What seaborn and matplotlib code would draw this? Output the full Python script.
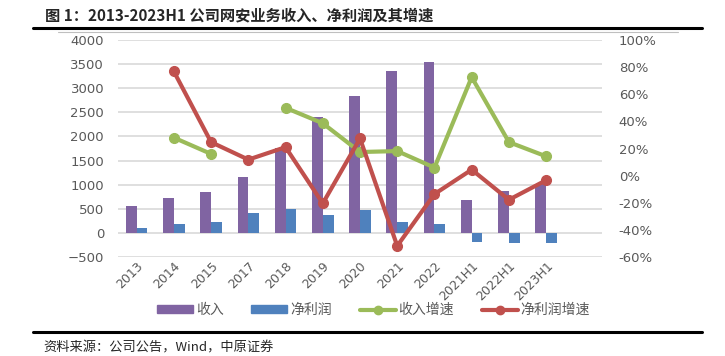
import numpy as np
import pandas as pd
import matplotlib
matplotlib.use('Agg')
import matplotlib.pyplot as plt
import seaborn as sns
from matplotlib.lines import Line2D
from matplotlib.patches import Patch

# 数据（单位：百万元 / 增速）
categories = ['2013', '2014', '2015', '2017', '2018', '2019', '2020', '2021',
              '2022', '2021H1', '2022H1', '2023H1']
revenue = [565, 730, 840, 1150, 1760, 2400, 2830, 3350, 3540, 690, 860, 1020]
net_profit = [100, 175, 220, 405, 490, 380, 485, 230, 190, -180, -220, -215]
revenue_growth = [np.nan, 28.0, 16.0, np.nan, 50.0, 38.6, 17.4, 18.1, 5.9, 72.6, 24.7, 14.2]
profit_growth = [np.nan, 76.8, 24.7, 11.8, 21.0, -20.5, 27.4, -51.8, -13.6, 4.4, -17.8, -3.4]

C_REV = '#8064A2'
C_NP = '#4F81BD'
C_RG = '#9BBB59'
C_PG = '#C0504D'
GRAY = '#595959'

sns.set_style('white')
plt.rcParams['font.family'] = ['Noto Sans CJK SC', 'DejaVu Sans']

fig = plt.figure(figsize=(7.25, 3.56), dpi=100)
ax = fig.add_axes([118 / 725, 1 - 257 / 356, 484 / 725, 217 / 356])

df = pd.DataFrame({
    'cat': categories * 2,
    'val': revenue + net_profit,
    'series': ['收入'] * len(categories) + ['净利润'] * len(categories),
})
sns.barplot(data=df, x='cat', y='val', hue='series', order=categories,
            hue_order=['收入', '净利润'], palette=[C_REV, C_NP],
            width=0.58, saturation=1, legend=False, ax=ax,
            edgecolor='none', linewidth=0)

ax.set_xlim(-0.5, 12.5)
ax.set_ylim(-500, 4000)
ax.set_yticks(np.arange(-500, 4001, 500))
ax.set_xlabel('')
ax.set_ylabel('')
ax.grid(axis='y', color='#D9D9D9', linewidth=1.2)
ax.set_axisbelow(True)
for s in ax.spines.values():
    s.set_visible(False)
ax.tick_params(axis='both', length=0, colors=GRAY)
ax.tick_params(axis='y', labelsize=9.5, pad=10)
for lab in ax.get_yticklabels():
    lab.set_family('DejaVu Sans')
ax.set_xticks(range(len(categories)))
ax.set_xticklabels(categories, rotation=45, ha='right', rotation_mode='anchor',
                   fontsize=9, family='DejaVu Sans', color=GRAY)
ax.tick_params(axis='x', pad=2)

ax2 = ax.twinx()
x = np.arange(len(categories))
ax2.plot(x, revenue_growth, color=C_RG, lw=3, marker='o', ms=7, zorder=3)
ax2.plot(x, profit_growth, color=C_PG, lw=3, marker='o', ms=7, zorder=4)
ax2.set_ylim(-60, 100)
ax2.set_yticks(np.arange(-60, 101, 20))
ax2.set_yticklabels([f'{v}%' for v in range(-60, 101, 20)],
                    family='DejaVu Sans', fontsize=9.5, color=GRAY)
ax2.tick_params(axis='y', length=0, pad=12)
for s in ax2.spines.values():
    s.set_visible(False)

# 图例
handles = [
    Patch(color=C_REV, label='收入'),
    Patch(color=C_NP, label='净利润'),
    Line2D([], [], color=C_RG, lw=3, marker='o', ms=6, label='收入增速'),
    Line2D([], [], color=C_PG, lw=3, marker='o', ms=6, label='净利润增速'),
]
leg = fig.legend(handles=handles, loc='center', bbox_to_anchor=(0.515, 1 - 310 / 356),
                 ncol=4, frameon=False, fontsize=10, handlelength=2.6,
                 handleheight=0.5, columnspacing=2.0, handletextpad=0.2)
for t in leg.get_texts():
    t.set_color(GRAY)

# 标题、分隔线、来源
fig.text(45 / 725, 1 - 15 / 356, '图 1：2013-2023H1 公司网安业务收入、净利润及其增速',
         fontsize=11, fontweight='bold', va='center', ha='left')
fig.add_artist(Line2D([33 / 725, 702 / 725], [1 - 28 / 356] * 2, color='black', lw=2.2))
fig.add_artist(Line2D([58 / 725, 678 / 725], [1 - 32 / 356] * 2, color='#BFBFBF', lw=0.8))
fig.add_artist(Line2D([33 / 725, 702 / 725], [1 - 332 / 356] * 2, color='black', lw=2.2))
fig.text(43 / 725, 1 - 348 / 356, '资料来源：公司公告，Wind，中原证券',
         fontsize=9.5, va='center', ha='left')

fig.savefig('out.png', dpi=100, facecolor='white')
